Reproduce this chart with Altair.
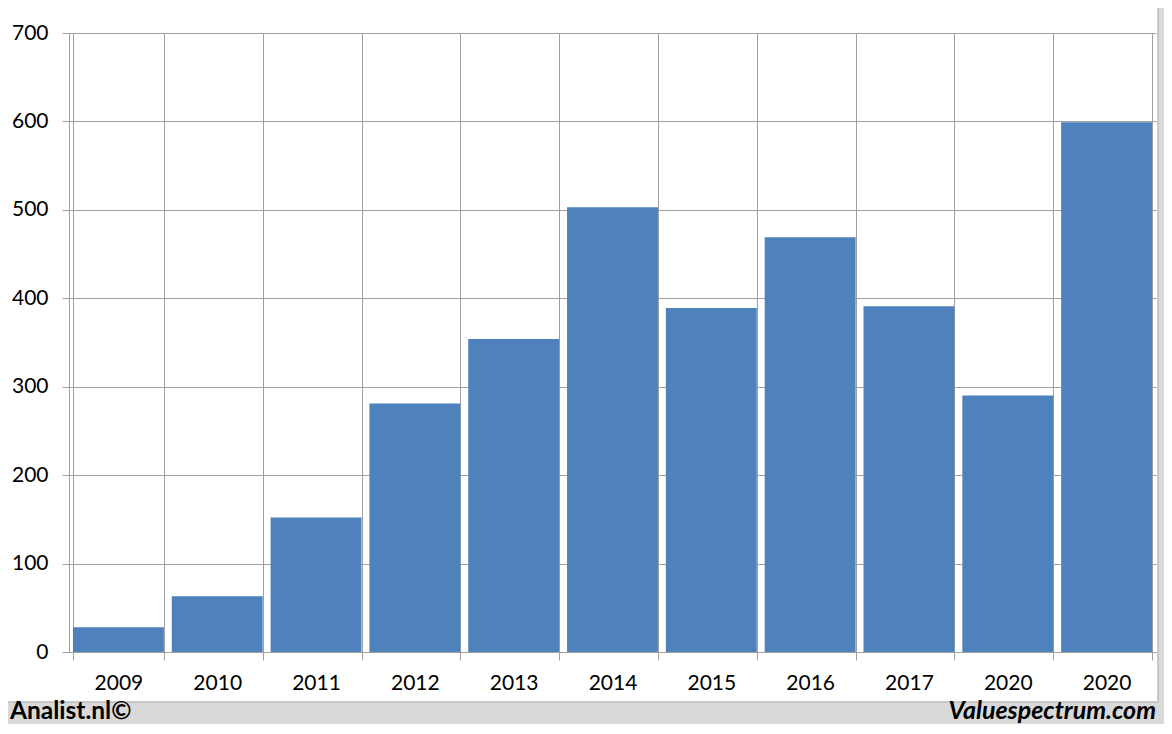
import altair as alt
import pandas as pd

years = ["2009", "2010", "2011", "2012", "2013", "2014", "2015", "2016", "2017", "2020", "2020"]
values = [28, 63, 152, 281, 354, 503, 389, 469, 391, 290, 599]
y_ticks = [0, 100, 200, 300, 400, 500, 600, 700]

W, H = 1087, 619
PB = 72  # bottom padding
FONT = "Lato"
GRID = "#a0a0a0"

df = pd.DataFrame({"slot": list(range(len(years))), "year": years, "value": values})
one = pd.DataFrame({"k": [0]})

label_expr = "[" + ",".join(f"'{y}'" for y in years) + "][datum.value]"

bars = alt.Chart(df).mark_bar(color="#4f81bd").encode(
    x=alt.X(
        "slot:O",
        title=None,
        scale=alt.Scale(paddingInner=0.08, paddingOuter=0.04),
        axis=alt.Axis(
            labelExpr=label_expr,
            labelAngle=0,
            tickBand="extent",
            grid=True,
            gridColor=GRID,
            tickColor=GRID,
            tickSize=8,
            domainColor=GRID,
            labelFont=FONT,
            labelFontSize=21,
            labelColor="#000000",
            labelPadding=12,
        ),
    ),
    y=alt.Y(
        "value:Q",
        title=None,
        scale=alt.Scale(domain=[0, 700], nice=False),
        axis=alt.Axis(
            values=y_ticks,
            grid=True,
            gridColor=GRID,
            tickColor=GRID,
            tickSize=7,
            domainColor=GRID,
            labelFont=FONT,
            labelFontSize=21,
            labelColor="#000000",
            labelPadding=14,
        ),
    ),
)

FOOT_TOP = H + 50

footer_bg = alt.Chart(one).mark_rect(color="#d9d9d9").encode(
    x=alt.value(-61), x2=alt.value(W + 8), y=alt.value(FOOT_TOP), y2=alt.value(H + PB)
)
right_bg = alt.Chart(one).mark_rect(color="#d9d9d9").encode(
    x=alt.value(W + 2), x2=alt.value(W + 8), y=alt.value(-25), y2=alt.value(H + PB)
)
edge_r = alt.Chart(one).mark_rule(color="#bdbdbd", strokeWidth=1.5).encode(
    x=alt.value(W + 2), y=alt.value(-25), y2=alt.value(FOOT_TOP)
)
edge_b = alt.Chart(one).mark_rule(color="#bdbdbd", strokeWidth=1.5).encode(
    x=alt.value(-61), x2=alt.value(W + 2), y=alt.value(FOOT_TOP)
)

left_txt = alt.Chart(one).mark_text(
    text="Analist.nl©", align="left", baseline="alphabetic",
    font=FONT, fontSize=24.5, fontWeight="bold", color="#000000"
).encode(x=alt.value(-59), y=alt.value(H + 67))

right_txt = alt.Chart(one).mark_text(
    text="Valuespectrum.com", align="right", baseline="alphabetic",
    font=FONT, fontSize=25, fontWeight="bold", fontStyle="italic", color="#000000"
).encode(x=alt.value(W), y=alt.value(H + 67))

chart = alt.layer(footer_bg, right_bg, edge_r, edge_b, bars, left_txt, right_txt).properties(
    width=W,
    height=H,
    autosize=alt.AutoSizeParams(type="none"),
    padding={"left": 61, "top": 25, "right": 8, "bottom": PB},
    background="#ffffff",
).configure_view(strokeWidth=0)

chart.save("out.html", embed_options={"renderer": "svg", "actions": False})
